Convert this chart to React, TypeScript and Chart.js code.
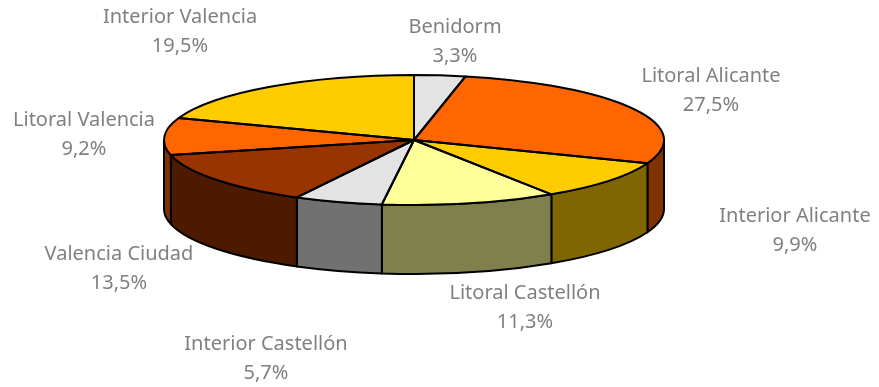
import React, { useEffect, useRef } from "react";
import { Chart, registerables } from "chart.js";

Chart.register(...registerables);

const categories = [
  "Benidorm",
  "Litoral Alicante",
  "Interior Alicante",
  "Litoral Castellón",
  "Interior Castellón",
  "Valencia Ciudad",
  "Litoral Valencia",
  "Interior Valencia",
];
const shares = [3.3, 27.5, 9.9, 11.3, 5.7, 13.5, 9.2, 19.5];
const topColors = ["#E3E3E3", "#FF6600", "#FFCC00", "#FFFF99", "#E3E3E3", "#993300", "#FF6600", "#FFCC00"];
const wallColors = ["#717171", "#803300", "#806600", "#80804D", "#717171", "#4D1A00", "#803300", "#806600"];
// label centres: x, and y of the first text line
const labelX = [455, 711, 795, 525, 266, 119, 84, 180];
const labelY = [27, 76, 216, 293, 344, 254, 120, 17];

const W = 879;
const H = 387;
const CX = 414;
const CY = 140;
const RX = 250;
const RY = 65;
const DEPTH = 69;
const LINE = 2;
const LINE_GAP = 29;
const FONT = '20px "Noto Sans"';

const pie3d = {
  id: "pie3d",
  beforeDatasetsDraw(chart: any) {
    const ctx = chart.ctx;
    const arcs = chart.getDatasetMeta(0).data;
    ctx.save();
    ctx.lineWidth = LINE;
    ctx.strokeStyle = "#000";
    ctx.lineJoin = "round";
    arcs.forEach((arc: any, i: number) => {
      const a = Math.max(arc.startAngle, 0);
      const b = Math.min(arc.endAngle, Math.PI);
      if (b <= a) return;
      ctx.beginPath();
      ctx.ellipse(CX, CY, RX, RY, 0, a, b);
      ctx.ellipse(CX, CY + DEPTH, RX, RY, 0, b, a, true);
      ctx.closePath();
      ctx.fillStyle = wallColors[i];
      ctx.fill();
      ctx.stroke();
    });
    ctx.restore();
    const first = arcs[0];
    const r = first.outerRadius;
    ctx.save();
    ctx.translate(CX, CY);
    ctx.scale(RX / r, RY / r);
    ctx.translate(-first.x, -first.y);
  },
  afterDatasetsDraw(chart: any) {
    const ctx = chart.ctx;
    ctx.restore();
    const arcs = chart.getDatasetMeta(0).data;
    ctx.save();
    ctx.lineWidth = LINE;
    ctx.strokeStyle = "#000";
    ctx.lineJoin = "round";
    arcs.forEach((arc: any) => {
      ctx.beginPath();
      ctx.moveTo(CX, CY);
      ctx.ellipse(CX, CY, RX, RY, 0, arc.startAngle, arc.endAngle);
      ctx.closePath();
      ctx.stroke();
    });
    ctx.font = FONT;
    ctx.fillStyle = "#808080";
    ctx.textAlign = "center";
    ctx.textBaseline = "middle";
    categories.forEach((name, i) => {
      ctx.fillText(name, labelX[i], labelY[i]);
      ctx.fillText(shares[i].toFixed(1).replace(".", ",") + "%", labelX[i], labelY[i] + LINE_GAP);
    });
    ctx.restore();
  },
};

export default function App() {
  const ref = useRef<HTMLCanvasElement>(null);
  useEffect(() => {
    document.body.style.margin = "0";
    document.body.style.background = "#fff";
    const chart = new Chart(ref.current!, {
      type: "pie",
      data: {
        labels: categories,
        datasets: [
          {
            data: shares,
            backgroundColor: topColors,
            borderWidth: 0,
            clip: false,
          } as any,
        ],
      },
      options: {
        animation: false,
        responsive: false,
        events: [],
        layout: { padding: 0 },
        plugins: { legend: { display: false }, tooltip: { enabled: false }, title: { display: false } },
      },
      plugins: [pie3d],
    });
    return () => chart.destroy();
  }, []);
  return <canvas ref={ref} width={W} height={H} style={{ display: "block", width: W, height: H }} />;
}
